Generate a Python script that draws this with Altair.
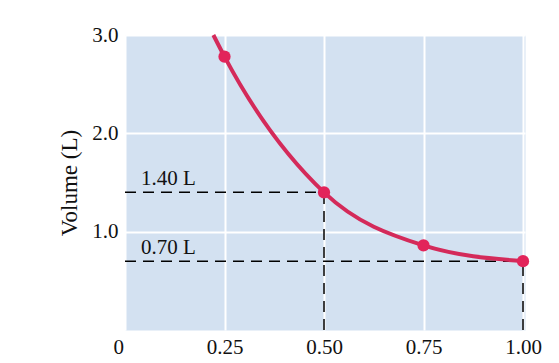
import altair as alt
import pandas as pd

# Data
pressure = [0.25, 0.50, 0.75, 1.00]
volume = [2.78, 1.40, 0.86, 0.70]
curve_p = [0.222, 0.25, 0.50, 0.75, 1.00]
curve_v = [3.00, 2.78, 1.40, 0.86, 0.70]
ref_p = [0.50, 1.00]
ref_v = [1.40, 0.70]
ref_labels = ["1.40 L", "0.70 L"]
x_ticks = [0, 0.25, 0.5, 0.75, 1.0]
y_ticks = [1.0, 2.0, 3.0]

pts = pd.DataFrame({"p": pressure, "v": volume})
curve = pd.DataFrame({"p": curve_p, "v": curve_v})
refs = pd.DataFrame({"p": ref_p, "v": ref_v, "label": ref_labels,
                     "zero": [0.0] * len(ref_p), "lx": [0.04] * len(ref_p)})

FONT = "Liberation Serif"

xscale = alt.Scale(domain=[0, 1.005], nice=False, zero=False)
yscale = alt.Scale(domain=[0, 3.0], nice=False)

xaxis = alt.Axis(
    values=x_ticks,
    labelExpr="datum.value == 0 ? '0' : format(datum.value, '.2f')",
    labelOffset={"condition": {"test": "datum.value == 0", "value": -12}, "value": 0},
    title=None,
    ticks=False,
    domain=False,
    labelPadding=6,
)
yaxis = alt.Axis(
    values=y_ticks,
    format=".1f",
    title="Volume (L)",
    ticks=False,
    domain=False,
    labelPadding=7,
    titlePadding=10,
)

base_x = alt.X("p:Q", scale=xscale, axis=xaxis)
base_y = alt.Y("v:Q", scale=yscale, axis=yaxis)

line = alt.Chart(curve).mark_line(
    color="#d42a5a", strokeWidth=4, interpolate="monotone"
).encode(x=base_x, y=base_y, order="p:Q")

dots = alt.Chart(pts).mark_circle(color="#e2245a", opacity=1, size=150).encode(
    x=alt.X("p:Q", scale=xscale), y=alt.Y("v:Q", scale=yscale)
)

hdash = alt.Chart(refs).mark_rule(color="black", strokeWidth=1.5, strokeDash=[11, 7]).encode(
    x=alt.X("zero:Q", scale=xscale), x2="p:Q", y=alt.Y("v:Q", scale=yscale)
)
vdash = alt.Chart(refs).mark_rule(color="black", strokeWidth=1.5, strokeDash=[11, 7]).encode(
    x=alt.X("p:Q", scale=xscale), y=alt.Y("zero:Q", scale=yscale), y2="v:Q"
)
labels = alt.Chart(refs).mark_text(
    align="left", baseline="alphabetic", dy=-7, font=FONT, fontSize=21, color="#111111"
).encode(x=alt.X("lx:Q", scale=xscale), y=alt.Y("v:Q", scale=yscale), text="label:N")

chart = alt.layer(hdash, vdash, line, dots, labels).properties(
    width=400,
    height=295,
    padding={"left": 117, "top": 27, "right": 26, "bottom": 31},
    autosize=alt.AutoSizeParams(type="none"),
    background="white",
).configure_view(
    fill="#d3e1f1", stroke="transparent"
).configure_axis(
    labelFont=FONT,
    labelFontSize=21,
    labelColor="#111111",
    titleFont=FONT,
    titleFontSize=23,
    titleFontWeight="normal",
    titleColor="#111111",
    gridColor="white",
    gridWidth=2,
    gridOpacity=1,
)

chart.save("out.html", embed_options={"renderer": "svg", "actions": False})
